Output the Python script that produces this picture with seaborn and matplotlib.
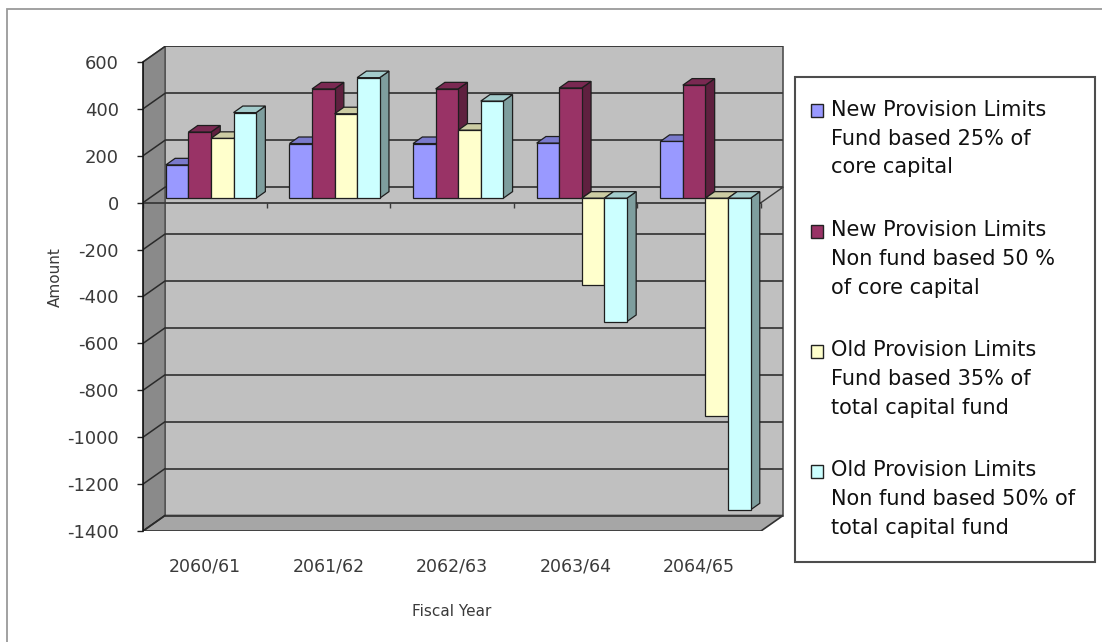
import numpy as np
import pandas as pd
import matplotlib
matplotlib.use("Agg")
import matplotlib.pyplot as plt
import matplotlib.transforms as mtrans
from matplotlib.patches import Polygon, Rectangle, Patch
from matplotlib.legend_handler import HandlerPatch
from matplotlib.colors import to_rgb
import seaborn as sns

# ---- data -------------------------------------------------------------
years = ["2060/61", "2061/62", "2062/63", "2063/64", "2064/65"]
series_names = [
    "New Provision Limits\nFund based 25% of\ncore capital",
    "New Provision Limits\nNon fund based 50 %\nof core capital",
    "Old Provision Limits\nFund based 35% of\ntotal capital fund",
    "Old Provision Limits\nNon fund based 50% of\ntotal capital fund",
]
new_fund = [142, 233, 233, 235, 242]
new_nonfund = [282, 466, 466, 470, 482]
old_fund = [255, 360, 290, -368, -930]
old_nonfund = [365, 514, 414, -526, -1329]
y_ticks = list(range(-1400, 601, 200))

colors = ["#9999FF", "#993366", "#FFFFCC", "#CCFFFF"]

df = pd.DataFrame({
    "Fiscal Year": years * 4,
    "Series": np.repeat(series_names, len(years)),
    "Amount": new_fund + new_nonfund + old_fund + old_nonfund,
})

# ---- figure / axes ----------------------------------------------------
W, H = 1102, 642
sns.set_theme(style="white")
plt.rcParams["font.family"] = ["DejaVu Sans"]
plt.rcParams["axes.unicode_minus"] = False

fig = plt.figure(figsize=(W / 100, H / 100), dpi=100)
fig.patch.set_facecolor("white")


def px_box(l, t, r, b):
    return [l / W, 1 - b / H, (r - l) / W, (b - t) / H]


ax = fig.add_axes(px_box(143, 46, 784, 531))
ax.patch.set_visible(False)

sns.barplot(data=df, x="Fiscal Year", y="Amount", hue="Series",
            order=years, hue_order=series_names, palette=colors,
            saturation=1, width=0.73, edgecolor="#1e1e1e", linewidth=0.9,
            legend=False, ax=ax)

YMIN, YMAX = -1400, 600
ax.set_xlim(-0.5, 4.686)
ax.set_ylim(YMIN, 668)

# depth of the chart box and of the columns (data units)
DX, DY = 0.178, 66.0          # full wall depth
FX, FY = 0.05, 19.0           # columns' front face offset
BX, BY = 0.075, 28.0          # columns' own depth
x_left, x_right = -0.5, len(years) - 0.5

# walls and floor
ax.add_patch(Rectangle((x_left + DX, YMIN + DY), x_right - x_left, YMAX - YMIN,
                       facecolor="#C0C0C0", edgecolor="#505050", lw=1.2, zorder=0))
ax.add_patch(Polygon([(x_left, YMIN), (x_left, YMAX), (x_left + DX, YMAX + DY),
                      (x_left + DX, YMIN + DY)], closed=True,
                     facecolor="#8A8A8A", edgecolor="#505050", lw=1.0, zorder=0.5))
ax.add_patch(Polygon([(x_left, YMIN), (x_right, YMIN), (x_right + DX, YMIN + DY),
                      (x_left + DX, YMIN + DY)], closed=True,
                     facecolor="#A6A6A6", edgecolor="#303030", lw=1.2, zorder=0.5))

# gridlines on the back wall and the matching lines on the side wall
for v in y_ticks:
    ax.plot([x_left + DX, x_right + DX], [v + DY, v + DY], color="#3a3a3a",
            lw=1.3, zorder=1, solid_capstyle="butt")
    ax.plot([x_left, x_left + DX], [v, v + DY], color="#2a2a2a", lw=1.1, zorder=1)

# category axis along the zero line
ax.plot([x_left, x_right], [0, 0], color="#3a3a3a", lw=1.3, zorder=1.5)
ax.plot([x_right, x_right + DX], [0, DY], color="#3a3a3a", lw=1.0, zorder=1.5)
ax.vlines(np.arange(x_left, x_right + 0.01, 1.0), -22, 0, color="#3a3a3a",
          lw=1.0, zorder=1.5)

# give the seaborn columns a top and a side face
front = mtrans.Affine2D().translate(FX, FY) + ax.transData
bars = sorted([p for p in ax.patches
               if isinstance(p, Rectangle) and p.get_width() < 0.5],
              key=lambda p: p.get_x())


def shade(c, f):
    r, g, b = to_rgb(c)
    return (r * f, g * f, b * f)


z = 3.0
for p in bars:
    x0 = p.get_x()
    x1 = x0 + p.get_width()
    h = p.get_height()
    lo, hi = min(0, h), max(0, h)
    fc = p.get_facecolor()
    side = Polygon([(x1, lo), (x1 + BX, lo + BY), (x1 + BX, hi + BY), (x1, hi)],
                   closed=True, facecolor=shade(fc[:3], 0.62),
                   edgecolor="#1e1e1e", lw=0.9, transform=front, zorder=z)
    top = Polygon([(x0, hi), (x1, hi), (x1 + BX, hi + BY), (x0 + BX, hi + BY)],
                  closed=True, facecolor=shade(fc[:3], 0.8),
                  edgecolor="#1e1e1e", lw=0.9, transform=front, zorder=z + 0.1)
    ax.add_patch(side)
    ax.add_patch(top)
    p.set_transform(front)
    p.set_zorder(z + 0.2)
    z += 1

# value axis
for s in ["top", "right", "bottom"]:
    ax.spines[s].set_visible(False)
ax.spines["left"].set_bounds(YMIN, YMAX)
ax.spines["left"].set_color("#111111")
ax.spines["left"].set_linewidth(1.2)
ax.spines["left"].set_zorder(2)

ax.set_yticks(y_ticks)
ax.set_yticklabels([str(v) for v in y_ticks])
ax.tick_params(axis="y", direction="out", length=4.3, width=1.0, color="#222222",
               pad=13, labelsize=13, labelcolor="#3a3a3a", left=True)
ax.set_xticks(range(len(years)))
ax.set_xticklabels(years)
ax.tick_params(axis="x", length=0, pad=19, labelsize=12.5, labelcolor="#3a3a3a")

ax.set_xlabel("Fiscal Year", fontsize=11, color="#3a3a3a")
ax.xaxis.set_label_coords((452 - 143) / 641, -(604 - 531) / 485)
ax.set_ylabel("Amount", fontsize=11, color="#3a3a3a")
ax.yaxis.set_label_coords((63 - 143) / 641, (531 - 277) / 485)

# legend: the key square sits beside the first line of each label
LEG_FS = 15
LINE_PT = 20.5   # distance between label lines, in points


def first_line_key(legend, orig_handle, xdescent, ydescent, width, height, fontsize):
    return Rectangle((-xdescent, -ydescent + LINE_PT), width, height)


handles = [Patch(facecolor=c, edgecolor="#222222", lw=1.0) for c in colors]
leg = ax.legend(handles, series_names, loc="upper left",
                bbox_to_anchor=(811 / W, 1 - 100 / H), bbox_transform=fig.transFigure,
                borderaxespad=0, borderpad=0, fontsize=LEG_FS, frameon=False,
                handlelength=0.58, handleheight=0.58, handletextpad=0.4,
                labelspacing=2.05,
                handler_map={Patch: HandlerPatch(patch_func=first_line_key)})
for t in leg.get_texts():
    t.set_linespacing(1.545)
    t.set_color("#111111")

fig.add_artist(Rectangle((795 / W, 1 - 562 / H), 300 / W, 485 / H,
                         transform=fig.transFigure, facecolor="none",
                         edgecolor="#4d4d4d", lw=1.5, zorder=0))

# chart-area border
fig.add_artist(Rectangle((7 / W, -0.1), 1.2, 1 - 9 / H + 0.1, transform=fig.transFigure,
                         fill=False, edgecolor="#9a9a9a", lw=1.3, clip_on=False))

fig.savefig("out.png", dpi=100, facecolor="white")
